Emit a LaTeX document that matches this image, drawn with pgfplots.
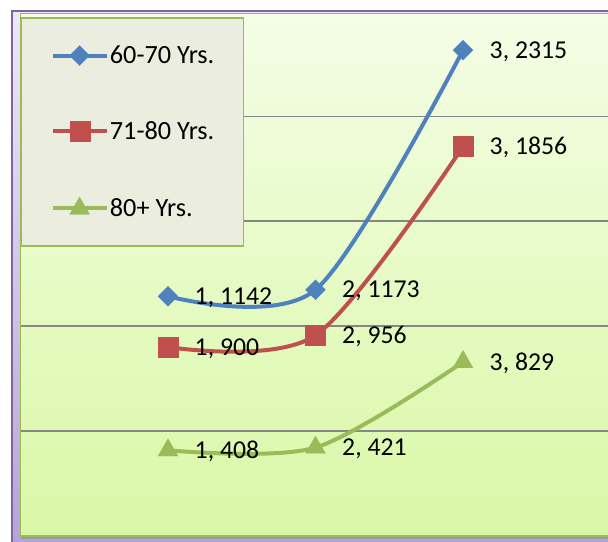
\documentclass[border=0pt]{standalone}
\usepackage{pgfplots}
\pgfplotsset{compat=1.18}
\usepackage{pgfplotstable}
\usepackage{fontspec}
\setmainfont{Carlito}

\definecolor{serA}{RGB}{79,129,189}
\definecolor{serB}{RGB}{192,80,77}
\definecolor{serC}{RGB}{155,187,89}
\definecolor{frameline}{RGB}{128,100,162}
\definecolor{lavtop}{RGB}{236,232,246}
\definecolor{lavbot}{RGB}{178,160,214}
\definecolor{ptop}{RGB}{244,253,230}
\definecolor{pbot}{RGB}{217,248,166}
\definecolor{legfill}{RGB}{235,238,222}
\definecolor{gridgray}{RGB}{134,134,134}

% age groups, x = survey round
\pgfplotstableread{
x y l
1 1142 {1, 1142}
2 1173 {2, 1173}
3 2315 {3, 2315}
}\dataA
\pgfplotstableread{
x y l
1 900 {1, 900}
2 956 {2, 956}
3 1856 {3, 1856}
}\dataB
\pgfplotstableread{
x y l
1 408 {1, 408}
2 421 {2, 421}
3 829 {3, 829}
}\dataC

\begin{document}
\begin{tikzpicture}
\useasboundingbox (-15.375pt,-4.575pt) rectangle (440.625pt,401.925pt);
\fill[white] (-15.375pt,-4.575pt) rectangle (440.625pt,401.925pt);
\shade[top color=lavtop, bottom color=lavbot] (-6.375pt,-30pt) rectangle (470pt,393.7pt);
\draw[frameline, line width=1.5pt] (-6.375pt,-30pt) -- (-6.375pt,393.7pt) -- (470pt,393.7pt);
\fill[black!45, opacity=0.6] (0pt,-2.2pt) rectangle (470pt,-0.3pt);
\begin{axis}[
  at={(0,0)}, anchor=south west,
  scale only axis, width=442.5pt, height=391.8pt,
  xmin=0, xmax=4, ymin=0, ymax=2490,
  clip=false,
  axis background/.style={shade, top color=ptop, bottom color=pbot},
  axis line style={draw=serC, line width=1.1pt},
  xtick=\empty, ytick={500,1000,1500,2000}, yticklabels={},
  major tick length=0pt,
  ymajorgrids, grid style={draw=gridgray, line width=1.1pt},
  every axis plot/.append style={line width=3pt, smooth},
  point meta=explicit symbolic,
  nodes near coords,
  nodes near coords style={anchor=base west, xshift=20pt, yshift=-6.1pt,
    inner sep=0pt, text=black, font=\fontsize{19.3}{23}\selectfont},
  legend cell align=left,
  legend image code/.code={\draw[mark repeat=2, mark phase=2, #1]
    plot coordinates {(0pt,0pt) (20.25pt,0pt) (40.5pt,0pt)};},
  legend style={at={(0,1)}, anchor=north west, yshift=-3pt,
    fill=legfill, draw=serC, line width=1.1pt,
    inner xsep=22pt, inner ysep=20.5pt, row sep=41.75pt, column sep=1pt,
    nodes={inner sep=0pt}, font=\fontsize{19.7}{23}\selectfont},
]
\addplot[serA, mark=square*, mark options={rotate=45, mark size=5.3pt, line width=0.1pt}]
  table[x=x, y=y, meta=l] {\dataA};
\addlegendentry{60-70 Yrs.}
\addplot[serB, mark=square*, mark options={mark size=7.5pt, line width=0.1pt}]
  table[x=x, y=y, meta=l] {\dataB};
\addlegendentry{71-80 Yrs.}
\addplot[serC, mark=triangle*, mark options={mark size=8.7pt, line width=0.1pt}]
  table[x=x, y=y, meta=l] {\dataC};
\addlegendentry{80+ Yrs.}
\end{axis}
\end{tikzpicture}
\end{document}
